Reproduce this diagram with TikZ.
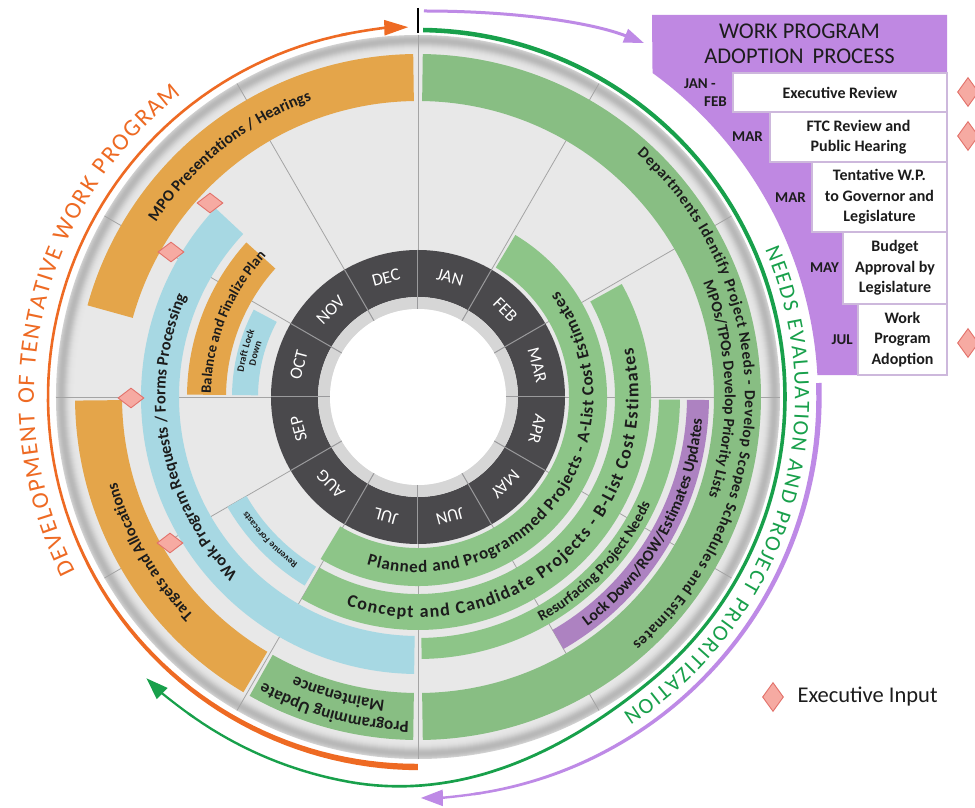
\documentclass[tikz,border=0pt]{standalone}
\usepackage{fontspec}
\setmainfont{Carlito}
\usetikzlibrary{decorations.text,shapes.geometric,arrows.meta}
\definecolor{bandorange}{HTML}{E4A54A}
\definecolor{bandgreen}{HTML}{8DC588}
\definecolor{outgreen}{HTML}{88BE83}
\definecolor{bandblue}{HTML}{A7D8E3}
\definecolor{bandpurple}{HTML}{AD82C1}
\definecolor{boxpurple}{HTML}{BF88E2}
\definecolor{cellline}{HTML}{CDB8DC}
\definecolor{ringdark}{HTML}{4A494C}
\definecolor{ringlight}{HTML}{D6D6D6}
\definecolor{sepgrey}{HTML}{A4A4A4}
\definecolor{ringsep}{HTML}{9A9A9C}
\definecolor{arcorange}{HTML}{EE6A23}
\definecolor{arcgreen}{HTML}{18A04B}
\definecolor{arcpurple}{HTML}{BE8AE6}
\definecolor{diafill}{HTML}{F6AAA2}
\definecolor{diadraw}{HTML}{E2716A}
\definecolor{txt}{HTML}{1C1C1C}
% band segment: colour, inner r, outer r, start clock angle, end clock angle
\newcommand\bandseg[5]{\fill[#1] ({90-(#4)}:#3) arc[start angle={90-(#4)}, end angle={90-(#5)}, radius=#3] -- ({90-(#5)}:#2) arc[start angle={90-(#5)}, end angle={90-(#4)}, radius=#2] -- cycle;}
% text with tops outward (clockwise): radius, centre clock angle, size, colour, text
\newcommand\outtext[5]{\path[decorate, decoration={text along path, text align=center, text={|\fontsize{#3}{#3}\selectfont\bfseries\color{#4}|#5}}] ({180-(#2)}:#1) arc[start angle={180-(#2)}, end angle={-(#2)}, radius=#1];}
% text with tops inward (counter-clockwise)
\newcommand\intext[5]{\path[decorate, decoration={text along path, text align=center, text={|\fontsize{#3}{#3}\selectfont\bfseries\color{#4}|#5}}] ({-(#2)}:#1) arc[start angle={-(#2)}, end angle={180-(#2)}, radius=#1];}
% bold band text fitted between two clock angles: radius, from, to, size, text
\newcommand\fitband[5]{\path[decorate, decoration={text along path, text align=fit to path, text={|\fontsize{#4}{#4}\selectfont\bfseries\color{txt}|#5}}] ({90-(#2)}:#1) arc[start angle={90-(#2)}, end angle={90-(#3)}, radius=#1];}
% regular big text fitted between two clock angles: radius, from, to, size, colour, text
\newcommand\fitbig[6]{\path[decorate, decoration={text along path, text align=fit to path, text={|\fontsize{#4}{#4}\selectfont\color{#5}|#6}}] ({90-(#2)}:#1) arc[start angle={90-(#2)}, end angle={90-(#3)}, radius=#1];}
\begin{document}
\begin{tikzpicture}[x=1pt,y=1pt,
  cellbox/.style={rectangle, fill=white, draw=cellline, line width=1.5pt, inner sep=0pt, align=center, text=txt, font=\fontsize{16}{20.5}\selectfont\bfseries},
  monthlbl/.style={text=white, font=\fontsize{17.5}{17.5}\selectfont, inner sep=0pt},
  boxmonth/.style={text=txt, font=\fontsize{15}{16}\selectfont\bfseries, anchor=east, inner sep=0pt},
  exdia/.style={diamond, fill=diafill, draw=diadraw, line width=0.9pt, minimum width=26pt, minimum height=20pt, inner sep=0pt},
  exdiav/.style={diamond, fill=diafill, draw=diadraw, line width=0.9pt, minimum width=21pt, minimum height=29pt, inner sep=0pt},
  declare function={ow(\x)=2.6+3.8*max(0,(250-\x)/70);
    gr(\x)=(\x<140)?367:((\x<190)?(367+12*(1-cos(3.6*(\x-140)))):391);
    gw(\x)=4.6-2.4*\x/222;
    pw(\x)=5.5-3.2*(\x-88)/90;}]
\useasboundingbox (-418,-411) rectangle (557,397);
\fill[white] (-418,-411) rectangle (557,397);
% disk with shaded rim
\foreach \i in {0,...,21}{
  \pgfmathsetmacro\p{9+19*exp(-((\i-5)/6)^2)}
  \fill[black!\p] (0,0) circle[radius={362-\i}];
}
% month separators
\foreach \a in {0,30,...,330} \draw[sepgrey, line width=0.8pt] (\a:88) -- (\a:362);
% bands
\bandseg{bandorange}{296}{343}{285.5}{359.2}
\bandseg{outgreen}{296}{343}{0.8}{179.2}
\bandseg{bandorange}{296}{343}{210.6}{269.4}
\bandseg{outgreen}{296}{343}{180.8}{209.4}
\bandseg{bandblue}{239}{277}{180.8}{313}
\bandseg{bandorange}{192}{231}{270.6}{312}
\bandseg{bandblue}{160}{186}{270.6}{298}
\bandseg{bandblue}{198}{220}{211}{240}
\bandseg{bandgreen}{151}{189}{31}{211}
\bandseg{bandgreen}{197}{233}{61}{210}
\bandseg{bandgreen}{241}{262}{90.6}{179.2}
\bandseg{bandpurple}{269}{291}{90.6}{150}
% month ring
\fill[ringdark, even odd rule] (0,0) circle[radius=147] (0,0) circle[radius=100];
\fill[ringlight, even odd rule] (0,0) circle[radius=100] (0,0) circle[radius=88];
\fill[white] (0,0) circle[radius=88];
\foreach \a in {0,30,...,330} \draw[ringsep, line width=1pt] (\a:88) -- (\a:147);
\foreach \m [count=\i from 0] in {JAN,FEB,MAR,APR,MAY,JUN,JUL,AUG,SEP,OCT,NOV,DEC}
  \node[monthlbl, rotate={-(15+30*\i)}] (m\m) at ({90-(15+30*\i)}:123.5) {\m};
% band texts
\outtext{315}{322}{16}{txt}{MPO Presentations / Hearings}
\fitband{327}{42}{139}{15.5}{Departments Identify Project Needs - Develop Scopes Schedules and Estimates}
\outtext{307}{88.5}{15.5}{txt}{MPOs/TPOs Develop Priority Lists}
\outtext{313}{240}{16}{txt}{Targets and Allocations}
\outtext{325}{195}{17}{txt}{Programming Update}
\outtext{305}{195}{17}{txt}{Maintenance}
\outtext{252.5}{259.5}{16.5}{txt}{Work Program Requests / Forms Processing}
\outtext{207}{292}{14.5}{txt}{Balance and Finalize Plan}
\outtext{176}{285}{10}{txt}{Draft Lock}
\outtext{165.5}{285}{10}{txt}{Down}
\outtext{205.5}{226}{9.5}{txt}{Revenue Forecasts}
\fitband{175.5}{197}{53}{17}{Planned and Programmed Projects - A-List Cost Estimates}
\fitband{220.5}{199}{77}{18}{Concept and Candidate Projects - B-List Cost Estimates}
\intext{256}{133}{15}{txt}{Resurfacing Project Needs}
\intext{285}{119}{16}{txt}{Lock Down/ROW/Estimates Updates}
% executive input diamonds
\node[exdia] (d1) at (-208,194) {};
\node[exdia] (d2) at (-247,145) {};
\node[exdia] (d3) at (-287,-1) {};
\node[exdia] (d4) at (-248,-146) {};
% outer arcs
\fill[arcorange] plot[domain=180:349, samples=90] ({(370+ow(\x)/2)*sin(\x)},{(370+ow(\x)/2)*cos(\x)}) -- plot[domain=349:180, samples=90] ({(370-ow(\x)/2)*sin(\x)},{(370-ow(\x)/2)*cos(\x)}) -- cycle;
\draw[arcorange, line width=2.6pt, -{Triangle[length=24pt,width=15pt]}] ({90-348}:370) arc[start angle={90-348}, end angle={90-358.5}, radius=370];
\fitbig{384}{243}{322}{24}{arcorange}{DEVELOPMENT OF TENTATIVE WORK PROGRAM}
\fill[arcgreen] plot[domain=0.8:216, samples=160] ({(gr(\x)+gw(\x)/2)*sin(\x)},{(gr(\x)+gw(\x)/2)*cos(\x)}) -- plot[domain=216:0.8, samples=160] ({(gr(\x)-gw(\x)/2)*sin(\x)},{(gr(\x)-gw(\x)/2)*cos(\x)}) -- cycle;
\draw[arcgreen, line width=2.2pt, -{Triangle[length=22pt,width=15pt]}] ({90-215}:391) arc[start angle={90-215}, end angle={90-224}, radius=391];
\fitbig{377}{67}{147}{22}{arcgreen}{NEEDS EVALUATION AND PROJECT PRIORITIZATION}
\fill[arcpurple] plot[domain=88:172, samples=80] ({(401+pw(\x)/2)*sin(\x)},{(401+pw(\x)/2)*cos(\x)}) -- plot[domain=172:88, samples=80] ({(401-pw(\x)/2)*sin(\x)},{(401-pw(\x)/2)*cos(\x)}) -- cycle;
\draw[arcpurple, line width=2.4pt, -{Triangle[length=22pt,width=16pt]}] ({90-171}:401) arc[start angle={90-171}, end angle={90-179.6}, radius=401];
\draw[arcpurple, line width=3pt, -{Triangle[length=20pt,width=14pt]}] (6,386) .. controls (100,386) and (175,374) .. (226,354);
\draw[black, line width=1.4pt] (0,389) -- (0,364);
% adoption process box
\fill[boxpurple] (234,382) -- (529,382) -- (529,22) -- (3.15:400) arc[start angle=3.15, end angle=54.1, radius=400] -- cycle;
\node[text=txt, font=\fontsize{22.5}{25}\selectfont, align=center] (hdr) at (381.5,353) {WORK PROGRAM\\ADOPTION\hspace{9pt}PROCESS};
\node[cellbox, minimum width=214pt, minimum height=39pt] (r1) at (422,304.5) {Executive Review};
\node[cellbox, minimum width=177pt, minimum height=50pt] (r2) at (440.5,260) {FTC Review and\\Public Hearing};
\node[cellbox, minimum width=135pt, minimum height=70pt] (r3) at (461.5,200) {Tentative W.P.\\to Governor and\\Legislature};
\node[cellbox, minimum width=104pt, minimum height=72pt] (r4) at (477,129) {Budget\\Approval by\\Legislature};
\node[cellbox, minimum width=89pt, minimum height=71pt] (r5) at (484.5,57.5) {Work\\Program\\Adoption};
\node[boxmonth] (b1a) at (298,313) {JAN -};
\node[boxmonth] (b1b) at (309,295) {FEB};
\node[boxmonth] (b2) at (345,260) {MAR};
\node[boxmonth] (b3) at (388,199) {MAR};
\node[boxmonth] (b4) at (421,129) {MAY};
\node[boxmonth] (b5) at (435,57) {JUL};
\node[exdiav] (d5) at (550,305) {};
\node[exdiav] (d6) at (550,261) {};
\node[exdiav] (d7) at (550,54) {};
% legend
\node[exdiav] (legd) at (355,-300) {};
\node[anchor=west, text=txt, font=\fontsize{22.5}{22.5}\selectfont] (legt) at (376,-300) {Executive Input};
\end{tikzpicture}
\end{document}
